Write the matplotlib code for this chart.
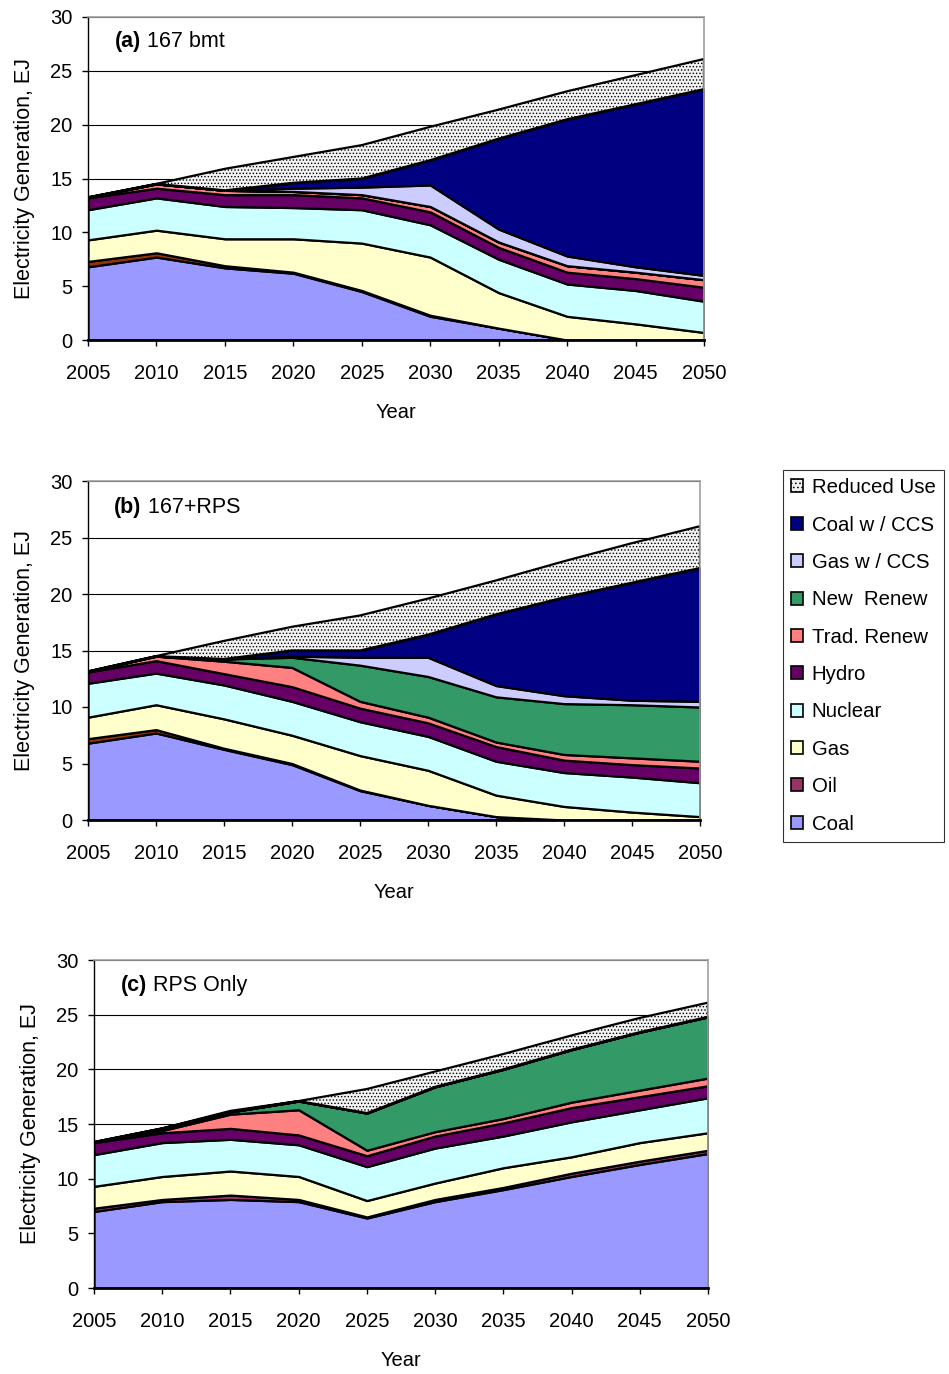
import numpy as np
import matplotlib.pyplot as plt
from matplotlib.patches import Patch

plt.rcParams['font.family'] = ['Liberation Sans', 'DejaVu Sans']
plt.rcParams['hatch.color'] = '#a8a8a8'
plt.rcParams['hatch.linewidth'] = 0.6

years = [2005, 2010, 2015, 2020, 2025, 2030, 2035, 2040, 2045, 2050]
techs = ['Coal', 'Oil', 'Gas', 'Nuclear', 'Hydro', 'Trad. Renew',
         'New  Renew', 'Gas w / CCS', 'Coal w / CCS', 'Reduced Use']

# (a) 167 bmt
a_coal = [6.8, 7.7, 6.7, 6.2, 4.5, 2.2, 1.1, 0, 0, 0]
a_oil = [0.5, 0.4, 0.2, 0.1, 0.1, 0.1, 0, 0, 0, 0]
a_gas = [2.0, 2.1, 2.5, 3.1, 4.4, 5.4, 3.3, 2.2, 1.5, 0.7]
a_nuclear = [2.8, 3.0, 3.0, 2.9, 3.1, 3.0, 3.1, 3.0, 3.1, 2.9]
a_hydro = [1.1, 0.9, 1.1, 1.2, 1.1, 1.2, 1.1, 1.1, 1.1, 1.3]
a_trad = [0.05, 0.4, 0.4, 0.3, 0.3, 0.5, 0.5, 0.6, 0.6, 0.7]
a_new = [0, 0, 0, 0, 0, 0, 0, 0, 0, 0]
a_gasccs = [0, 0, 0, 0.3, 0.7, 2.0, 1.2, 0.9, 0.5, 0.4]
a_coalccs = [0, 0, 0, 0.5, 0.8, 2.3, 8.4, 12.7, 15.1, 17.3]
a_reduced = [0, 0, 2.0, 2.4, 3.1, 3.1, 2.7, 2.6, 2.7, 2.8]

# (b) 167+RPS
b_coal = [6.8, 7.7, 6.25, 4.9, 2.6, 1.3, 0.3, 0, 0, 0]
b_oil = [0.4, 0.3, 0.1, 0.1, 0.05, 0, 0, 0, 0, 0]
b_gas = [1.9, 2.2, 2.6, 2.5, 3.05, 3.1, 1.9, 1.2, 0.7, 0.3]
b_nuclear = [3.0, 2.8, 3.0, 3.0, 3.0, 3.0, 3.0, 3.0, 3.1, 3.0]
b_hydro = [1.0, 1.1, 1.0, 1.3, 1.2, 1.2, 1.3, 1.1, 1.1, 1.3]
b_trad = [0.05, 0.4, 1.1, 1.7, 0.6, 0.5, 0.4, 0.5, 0.6, 0.6]
b_new = [0, 0, 0.2, 0.9, 3.2, 3.6, 4.0, 4.5, 4.7, 4.8]
b_gasccs = [0, 0, 0, 0.1, 0.7, 1.7, 1.0, 0.7, 0.4, 0.5]
b_coalccs = [0, 0, 0, 0.5, 0.6, 2.0, 6.3, 8.7, 10.4, 11.8]
b_reduced = [0, 0, 1.6, 2.1, 3.1, 3.2, 3.0, 3.2, 3.5, 3.7]

# (c) RPS Only
c_coal = [7.0, 7.9, 8.1, 7.9, 6.4, 7.9, 9.0, 10.2, 11.3, 12.3]
c_oil = [0.3, 0.2, 0.4, 0.2, 0.1, 0.2, 0.2, 0.3, 0.3, 0.3]
c_gas = [2.0, 2.1, 2.2, 2.1, 1.5, 1.5, 1.8, 1.5, 1.7, 1.6]
c_nuclear = [2.9, 3.1, 2.9, 2.9, 3.1, 3.2, 2.9, 3.2, 3.0, 3.2]
c_hydro = [1.1, 0.9, 1.0, 0.9, 1.0, 1.1, 1.2, 1.3, 1.2, 1.1]
c_trad = [0.05, 0.2, 1.3, 2.3, 0.5, 0.4, 0.4, 0.5, 0.6, 0.7]
c_new = [0, 0.2, 0.2, 0.8, 3.4, 4.1, 4.5, 4.8, 5.3, 5.6]
c_gasccs = [0, 0, 0, 0, 0, 0, 0, 0, 0, 0]
c_coalccs = [0, 0, 0, 0, 0, 0, 0, 0, 0, 0]
c_reduced = [0, 0, 0.1, 0, 2.2, 1.4, 1.4, 1.3, 1.3, 1.3]

colors = ['#9999FF', '#993366', '#FFFFCC', '#CCFFFF', '#660066', '#FF8080',
          '#339966', '#CCCCFF', '#000080', '#F2F2F2']

panels = [
    ('(a)', ' 167 bmt', [a_coal, a_oil, a_gas, a_nuclear, a_hydro, a_trad, a_new,
                         a_gasccs, a_coalccs, a_reduced], '#993300',
     [88 / 949, 1 - 340 / 1374, 616 / 949, 323 / 1374]),
    ('(b)', ' 167+RPS', [b_coal, b_oil, b_gas, b_nuclear, b_hydro, b_trad, b_new,
                         b_gasccs, b_coalccs, b_reduced], '#993300',
     [88 / 949, 1 - 820 / 1374, 612 / 949, 339 / 1374]),
    ('(c)', ' RPS Only', [c_coal, c_oil, c_gas, c_nuclear, c_hydro, c_trad, c_new,
                          c_gasccs, c_coalccs, c_reduced], '#993366',
     [94 / 949, 1 - 1288 / 1374, 614 / 949, 328 / 1374]),
]

fs = 14.5

fig = plt.figure(figsize=(9.49, 13.74), dpi=100)

for tag, name, layers, oil_col, rect in panels:
    ax = fig.add_axes(rect)
    cols = list(colors)
    cols[1] = oil_col
    polys = ax.stackplot(years, *layers, colors=cols, edgecolor='black', linewidth=1.6)
    polys[-1].set_hatch('.....')
    ax.set_xlim(2005, 2050)
    ax.set_ylim(0, 30)
    ax.set_xticks(years)
    ax.set_yticks(range(0, 31, 5))
    for yv in range(5, 31, 5):
        ax.axhline(yv, color='black', lw=0.8, zorder=0.5)
    ax.tick_params(labelsize=fs, direction='out', length=4, width=1)
    ax.tick_params(axis='x', pad=13)
    ax.tick_params(axis='y', pad=7)
    for s in ['top', 'right']:
        ax.spines[s].set_color('#a0a0a0')
        ax.spines[s].set_linewidth(1.2)
    ax.spines['left'].set_linewidth(1.0)
    ax.spines['bottom'].set_linewidth(2.0)
    ax.set_xlabel('Year', fontsize=fs, labelpad=15)
    ax.set_ylabel('Electricity Generation, EJ', fontsize=15.5, labelpad=11)
    t = ax.text(0.043, 0.923, tag, transform=ax.transAxes, fontsize=15.5,
                fontweight='bold', va='center', ha='left')
    ax.annotate(name, xy=(1, 0.5), xycoords=t, va='center', ha='left', fontsize=15.5)

handles = []
for lab, col in zip(techs[::-1], colors[::-1]):
    p = Patch(facecolor=col, edgecolor='black', linewidth=1.2, label=lab)
    if lab == 'Reduced Use':
        p.set_hatch('....')
    handles.append(p)
leg = fig.legend(handles=handles, loc='upper left', bbox_to_anchor=(783 / 949, 1 - 470 / 1374),
                 fontsize=14.7, frameon=True, fancybox=False, edgecolor='black',
                 handlelength=0.6, handleheight=0.6, handletextpad=0.4,
                 labelspacing=0.9, borderpad=0.4, borderaxespad=0)
leg.get_frame().set_linewidth(0.8)

fig.savefig('out.png', dpi=100)
